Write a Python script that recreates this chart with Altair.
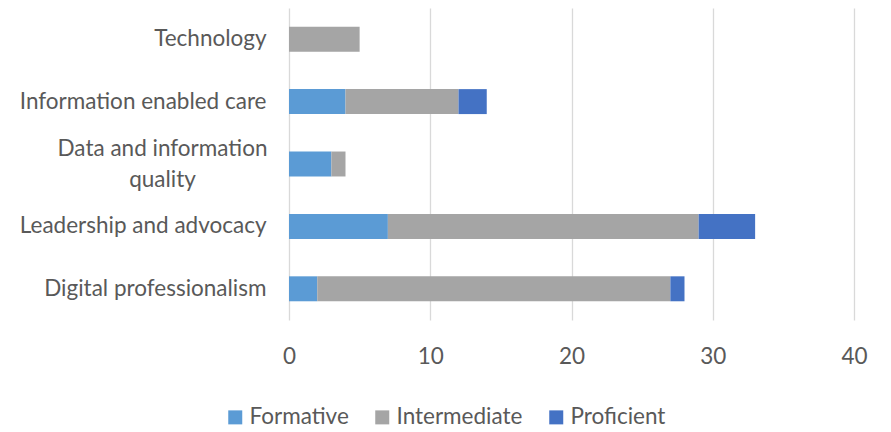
import altair as alt
import pandas as pd

categories = ["Technology", "Information enabled care", "Data and information quality",
              "Leadership and advocacy", "Digital professionalism"]
levels = ["Formative", "Intermediate", "Proficient"]
formative = [0, 4, 3, 7, 2]
intermediate = [5, 8, 1, 22, 25]
proficient = [0, 2, 0, 4, 1]
colors = ["#5B9BD5", "#A5A5A5", "#4472C4"]
x_ticks = [0, 10, 20, 30, 40]

rows = []
for i, c in enumerate(categories):
    for j, (lvl, vals) in enumerate(zip(levels, [formative, intermediate, proficient])):
        rows.append({"category": c, "level": lvl, "order": j, "value": vals[i]})
df = pd.DataFrame(rows)

FONT = "Lato"
FS = 22.5
TXT = "#595959"
wrap_test = "datum.value == 'Data and information quality'"
label_expr = (f"{wrap_test} ? ['Data and information', 'quality'] : datum.label")

chart = alt.Chart(df).mark_bar().encode(
    x=alt.X("value:Q", stack="zero", scale=alt.Scale(domain=[0, 40]),
            axis=alt.Axis(values=x_ticks, title=None, grid=True, gridColor="#d9d9d9",
                          gridWidth=1.3, domain=False, ticks=False, labelFlush=False,
                          labelFont=FONT, labelFontSize=FS, labelColor=TXT, labelPadding=25)),
    y=alt.Y("category:N", sort=categories,
            scale=alt.Scale(paddingInner=0.6, paddingOuter=0.3),
            axis=alt.Axis(title=None, domain=False, ticks=False,
                          labelPadding={"condition": {"test": wrap_test, "value": 127}, "value": 23},
                          labelAlign={"condition": {"test": wrap_test, "value": "center"}, "value": "right"},
                          labelOffset={"condition": {"test": wrap_test, "value": -15}, "value": 0},
                          labelExpr=label_expr, labelLineHeight=31, labelLimit=400,
                          labelFont=FONT, labelFontSize=FS, labelColor=TXT)),
    color=alt.Color("level:N", scale=alt.Scale(domain=levels, range=colors),
                    legend=alt.Legend(title=None, orient="none", direction="horizontal",
                                      legendX=-65, legendY=398, symbolType="square",
                                      symbolSize=196, symbolStrokeWidth=0,
                                      labelFont=FONT, labelFontSize=FS, labelColor=TXT,
                                      labelOffset=3, columnPadding=22)),
    order="order:Q",
).properties(
    width=565, height=312,
    autosize=alt.AutoSizeParams(type="none"),
    padding={"left": 281, "top": 0, "right": 20, "bottom": 110},
).configure_view(stroke=None)

chart.save("out.html", embed_options={"renderer": "svg", "actions": False})
